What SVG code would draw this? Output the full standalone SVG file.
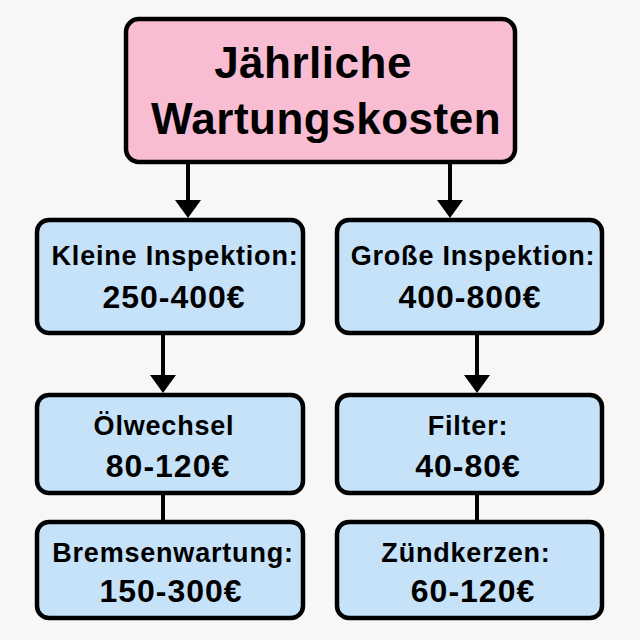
<svg xmlns="http://www.w3.org/2000/svg" width="640" height="640" viewBox="0 0 640 640">
<defs>
<style>
.box{stroke:#000;stroke-width:4.5}
.top{fill:#f9bdd3}
.blue{fill:#c6e2f9}
.t{font-family:"Liberation Sans",Arial,sans-serif;font-weight:bold;fill:#000;text-anchor:middle}
.h{font-size:44px;letter-spacing:0.5px}
.b{font-size:27px;letter-spacing:0.8px}
.n{font-size:32px;letter-spacing:1px}
.c{stroke:#000;stroke-width:4;fill:none}
</style>
</defs>
<rect width="640" height="640" fill="#f7f7f7"/>
<g id="connectors">
<line class="c" x1="188" y1="162" x2="188" y2="202"/>
<path d="M175,200 L201,200 L188,218 z" fill="#000"/>
<line class="c" x1="450" y1="162" x2="450" y2="202"/>
<path d="M437,200 L463,200 L450,218 z" fill="#000"/>
<line class="c" x1="163" y1="333" x2="163" y2="377"/>
<path d="M150,375 L176,375 L163,393 z" fill="#000"/>
<line class="c" x1="477" y1="333" x2="477" y2="377"/>
<path d="M464,375 L490,375 L477,393 z" fill="#000"/>
<line class="c" x1="163" y1="493" x2="163" y2="522"/>
<line class="c" x1="477" y1="493" x2="477" y2="522"/>
</g>
<g id="root">
<rect class="box top" x="126" y="19" width="389" height="143" rx="13"/>
<text class="t h" x="313" y="78">Jährliche</text>
<text class="t h" x="326" y="134">Wartungskosten</text>
</g>
<g id="kleine">
<rect class="box blue" x="37" y="220" width="266" height="113" rx="12"/>
<text class="t b" x="175" y="265">Kleine Inspektion:</text>
<text class="t n" x="174" y="308">250-400€</text>
</g>
<g id="grosse">
<rect class="box blue" x="337" y="220" width="265" height="113" rx="12"/>
<text class="t b" x="473" y="265">Große Inspektion:</text>
<text class="t n" x="470" y="308">400-800€</text>
</g>
<g id="oel">
<rect class="box blue" x="37" y="395" width="266" height="98" rx="12"/>
<text class="t b" x="164" y="435">Ölwechsel</text>
<text class="t n" x="168" y="477">80-120€</text>
</g>
<g id="filter">
<rect class="box blue" x="337" y="395" width="265" height="98" rx="12"/>
<text class="t b" x="468" y="435">Filter:</text>
<text class="t n" x="468" y="477">40-80€</text>
</g>
<g id="bremse">
<rect class="box blue" x="37" y="522" width="266" height="96" rx="12"/>
<text class="t b" x="173" y="562">Bremsenwartung:</text>
<text class="t n" x="171" y="602">150-300€</text>
</g>
<g id="zuend">
<rect class="box blue" x="337" y="522" width="265" height="96" rx="12"/>
<text class="t b" x="466" y="562">Zündkerzen:</text>
<text class="t n" x="473" y="602">60-120€</text>
</g>
</svg>
